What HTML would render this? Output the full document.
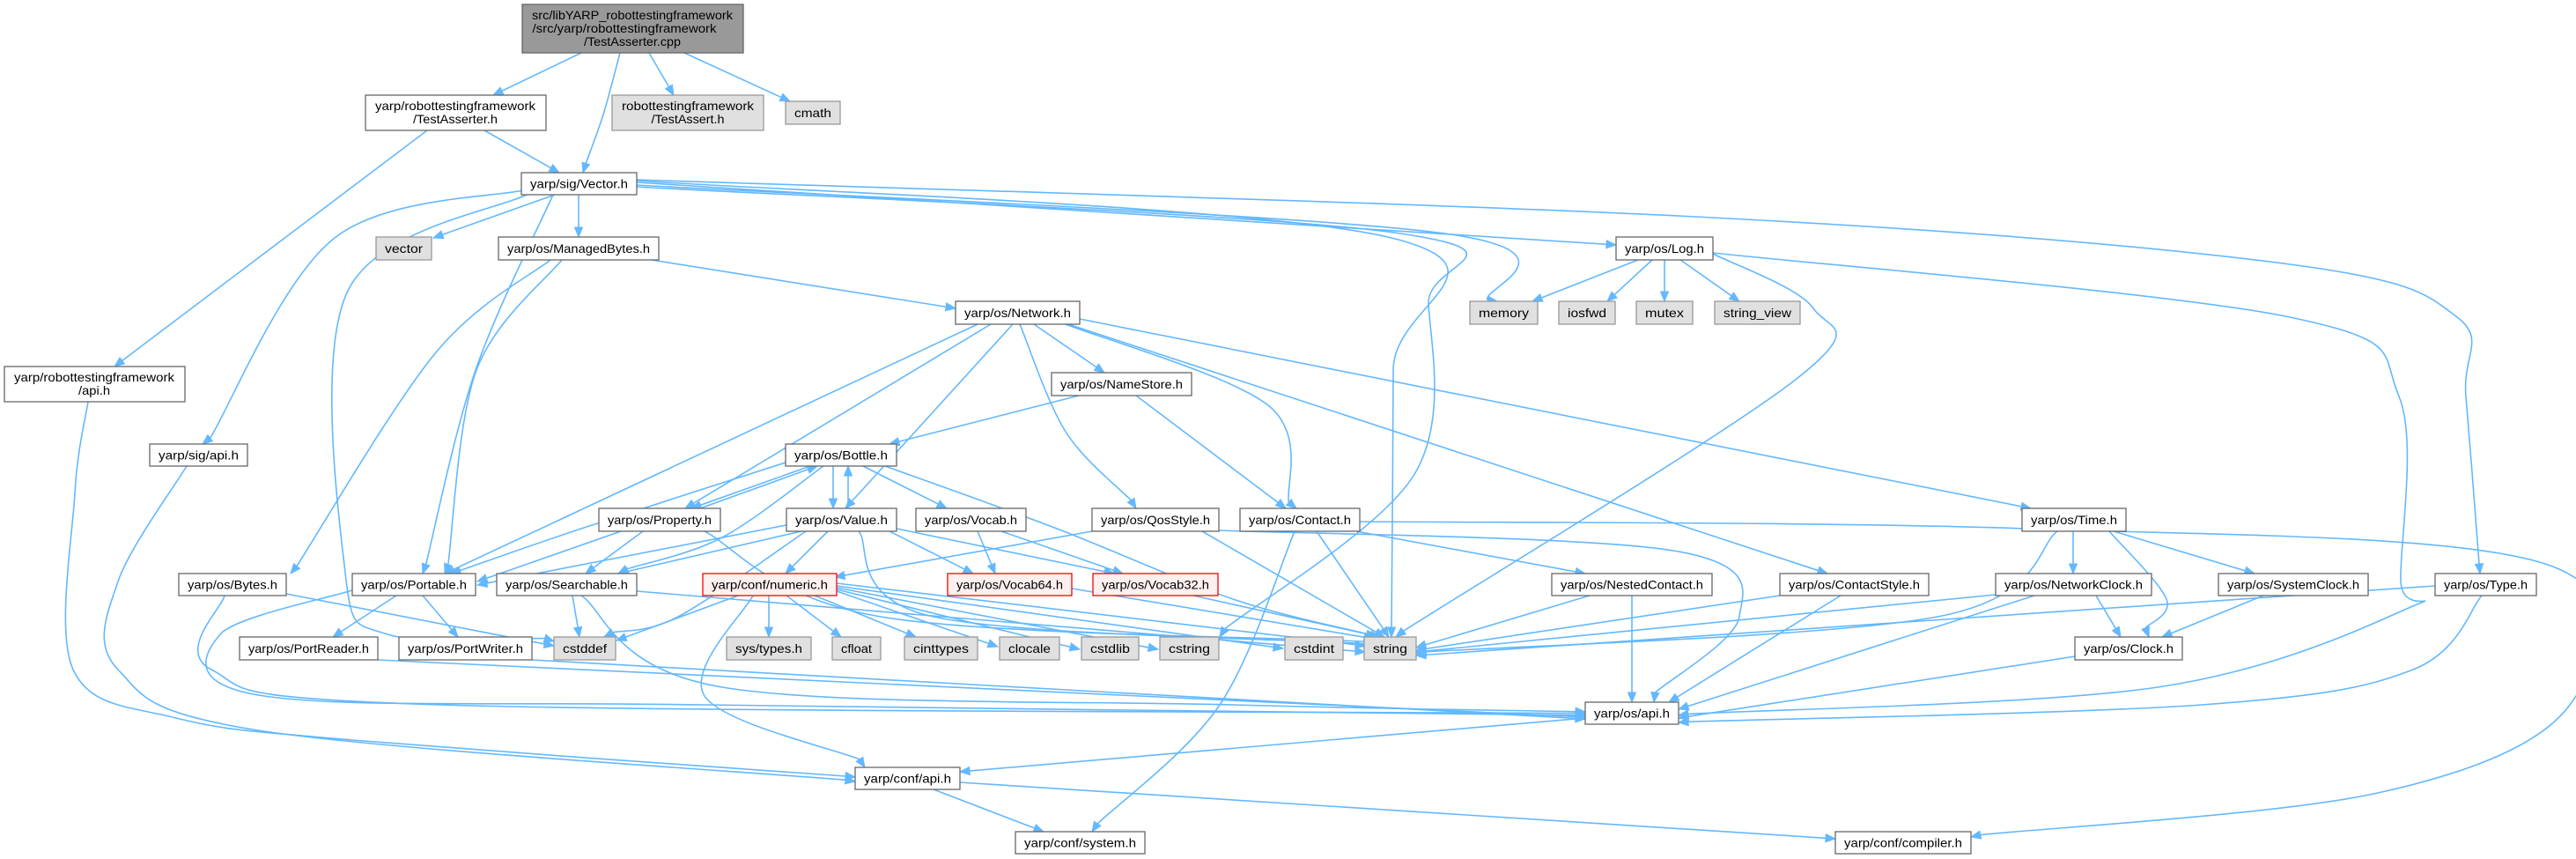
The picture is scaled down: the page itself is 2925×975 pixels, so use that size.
<!DOCTYPE html>
<html><head><meta charset="utf-8"><style>
html,body{margin:0;padding:0;background:#fff;}
svg{display:block;}
text{font-family:"Liberation Sans","DejaVu Sans",sans-serif;font-size:14px;fill:#000;}
</style></head><body>
<svg id="s" width="2925" height="975" viewBox="0 0 2925 975" xmlns="http://www.w3.org/2000/svg">
<g id="edges" fill="none" stroke="#63b8ff" stroke-width="1.6"></g>
<g id="heads" fill="#63b8ff" stroke="#63b8ff" stroke-width="1"></g>
<g id="nodes"></g>
<g id="labels" text-anchor="middle">
<text x="718" y="22" textLength="228" lengthAdjust="spacingAndGlyphs">src/libYARP_robottestingframework</text>
<text x="709" y="37" textLength="209" lengthAdjust="spacingAndGlyphs">/src/yarp/robottestingframework</text>
<text x="718" y="52" textLength="110" lengthAdjust="spacingAndGlyphs">/TestAsserter.cpp</text>
<text x="517" y="125" textLength="182" lengthAdjust="spacingAndGlyphs">yarp/robottestingframework</text>
<text x="517" y="140" textLength="96" lengthAdjust="spacingAndGlyphs">/TestAsserter.h</text>
<text x="781" y="125" textLength="150" lengthAdjust="spacingAndGlyphs">robottestingframework</text>
<text x="781" y="140" textLength="83" lengthAdjust="spacingAndGlyphs">/TestAssert.h</text>
<text x="107" y="433" textLength="182" lengthAdjust="spacingAndGlyphs">yarp/robottestingframework</text>
<text x="107" y="448" textLength="36" lengthAdjust="spacingAndGlyphs">/api.h</text>
<text class="s" data-n="cmath">cmath</text>
<text class="s" data-n="vec">yarp/sig/Vector.h</text>
<text class="s" data-n="vector">vector</text>
<text class="s" data-n="mb">yarp/os/ManagedBytes.h</text>
<text class="s" data-n="log">yarp/os/Log.h</text>
<text class="s" data-n="net">yarp/os/Network.h</text>
<text class="s" data-n="memory">memory</text>
<text class="s" data-n="iosfwd">iosfwd</text>
<text class="s" data-n="mutex">mutex</text>
<text class="s" data-n="sv">string_view</text>
<text class="s" data-n="ns">yarp/os/NameStore.h</text>
<text class="s" data-n="sigapi">yarp/sig/api.h</text>
<text class="s" data-n="bottle">yarp/os/Bottle.h</text>
<text class="s" data-n="prop">yarp/os/Property.h</text>
<text class="s" data-n="value">yarp/os/Value.h</text>
<text class="s" data-n="bytes">yarp/os/Bytes.h</text>
<text class="s" data-n="port">yarp/os/Portable.h</text>
<text class="s" data-n="search">yarp/os/Searchable.h</text>
<text class="s" data-n="num">yarp/conf/numeric.h</text>
<text class="s" data-n="pr">yarp/os/PortReader.h</text>
<text class="s" data-n="pw">yarp/os/PortWriter.h</text>
<text class="s" data-n="cstddef">cstddef</text>
<text class="s" data-n="systypes">sys/types.h</text>
<text class="s" data-n="cfloat">cfloat</text>
<text class="s" data-n="confapi">yarp/conf/api.h</text>
<text class="s" data-n="vocab">yarp/os/Vocab.h</text>
<text class="s" data-n="qos">yarp/os/QosStyle.h</text>
<text class="s" data-n="contact">yarp/os/Contact.h</text>
<text class="s" data-n="v64">yarp/os/Vocab64.h</text>
<text class="s" data-n="v32">yarp/os/Vocab32.h</text>
<text class="s" data-n="nested">yarp/os/NestedContact.h</text>
<text class="s" data-n="cinttypes">cinttypes</text>
<text class="s" data-n="clocale">clocale</text>
<text class="s" data-n="cstdlib">cstdlib</text>
<text class="s" data-n="cstring">cstring</text>
<text class="s" data-n="cstdint">cstdint</text>
<text class="s" data-n="string">string</text>
<text class="s" data-n="osapi">yarp/os/api.h</text>
<text class="s" data-n="system">yarp/conf/system.h</text>
<text class="s" data-n="time">yarp/os/Time.h</text>
<text class="s" data-n="cstyle">yarp/os/ContactStyle.h</text>
<text class="s" data-n="nclock">yarp/os/NetworkClock.h</text>
<text class="s" data-n="sclock">yarp/os/SystemClock.h</text>
<text class="s" data-n="type">yarp/os/Type.h</text>
<text class="s" data-n="clock">yarp/os/Clock.h</text>
<text class="s" data-n="compiler">yarp/conf/compiler.h</text>
</g>
</svg>
<script>
var N={
root:[593,5,844,60,'root'],ta:[415,108,620,148,'w'],tas:[695,108,867,148,'g'],cmath:[892,115,954,141,'g'],
vec:[592,196,723,221,'w'],vector:[427,269,490,295,'g'],mb:[566,269,748,295,'w'],rtfapi:[5,416,210,456,'w'],
log:[1835,269,1945,295,'w'],net:[1085,342,1226,368,'w'],memory:[1669,342,1746,368,'g'],iosfwd:[1770,342,1834,368,'g'],
mutex:[1858,342,1922,368,'g'],sv:[1947,342,2044,368,'g'],ns:[1194,423,1353,449,'w'],
sigapi:[170,504,281,529,'w'],bottle:[892,504,1018,529,'w'],prop:[680,577,818,603,'w'],value:[893,577,1018,603,'w'],
bytes:[203,651,325,676,'w'],port:[400,651,540,676,'w'],search:[564,651,723,676,'w'],num:[798,651,950,676,'r'],
pr:[272,723,429,749,'w'],pw:[453,723,604,749,'w'],cstddef:[629,723,699,749,'g'],systypes:[825,723,921,749,'g'],
cfloat:[945,723,1000,749,'g'],confapi:[971,871,1090,896,'w'],vocab:[1040,577,1165,603,'w'],qos:[1240,577,1384,603,'w'],
contact:[1408,577,1544,603,'w'],v64:[1076,651,1217,676,'r'],v32:[1241,651,1383,676,'r'],nested:[1762,651,1944,676,'w'],
cinttypes:[1027,723,1110,749,'g'],clocale:[1135,723,1203,749,'g'],cstdlib:[1228,723,1293,749,'g'],cstring:[1317,723,1384,749,'g'],
cstdint:[1459,723,1525,749,'g'],string:[1549,723,1608,749,'g'],osapi:[1800,797,1906,822,'w'],system:[1153,944,1300,969,'w'],
time:[2296,577,2414,603,'w'],cstyle:[2021,651,2190,676,'w'],nclock:[2266,651,2443,676,'w'],sclock:[2519,651,2689,676,'w'],
type:[2765,651,2880,676,'w'],clock:[2356,723,2478,749,'w'],compiler:[2084,944,2238,969,'w']};
var NS="http://www.w3.org/2000/svg";
var gn=document.getElementById('nodes');
for(var k in N){var b=N[k];var r=document.createElementNS(NS,'rect');
r.setAttribute('x',b[0]);r.setAttribute('y',b[1]);r.setAttribute('width',b[2]-b[0]);r.setAttribute('height',b[3]-b[1]);
var t=b[4];r.setAttribute('fill',t=='root'?'#999999':t=='g'?'#e0e0e0':t=='r'?'#fff0f0':'#ffffff');
r.setAttribute('stroke',t=='r'?'#ff0000':t=='g'?'#999999':'#666666');r.setAttribute('stroke-width','1.3');gn.appendChild(r);}
document.querySelectorAll('text.s').forEach(function(t){var b=N[t.getAttribute('data-n')];
t.setAttribute('x',(b[0]+b[2])/2);t.setAttribute('y',(b[1]+b[3])/2+5);
t.setAttribute('textLength',b[2]-b[0]-20);t.setAttribute('lengthAdjust','spacingAndGlyphs');});
var E=[
[[660,60],[560,108]],[[704,60],[685,130],[662,196]],[[737,60],[765,108]],[[777,60],[897,115]],
[[550,148],[635,196]],[[485,148],[130,416]],
[[100,456],[85,560],[83,760],[200,815],[400,840],[971,882]],
[[212,529],[134,660],[134,760],[300,830],[971,887]],
[[600,215],[380,270],[230,504]],
[[600,220],[395,330],[392,650],[440,720],[629,728]],
[[628,221],[540,420],[480,651]],
[[630,221],[492,270]],[[657,221],[657,269]],
[[723,205],[1580,270],[1582,420],[1580,723]],
[[723,212],[1590,265],[1622,345],[1605,540],[1385,723]],
[[723,210],[1640,265],[1700,342]],
[[723,207],[1835,278]],
[[723,204],[1925,246],[2600,300],[2790,360],[2800,450],[2816,651]],
[[740,295],[1085,350]],[[625,295],[495,400],[330,651]],[[638,295],[541,420],[505,651]],
[[1110,368],[505,651]],[[1125,368],[778,577]],[[1150,368],[960,577]],[[1174,368],[1254,423]],
[[1158,368],[1210,490],[1290,577]],[[1210,368],[1440,460],[1472,577]],[[1213,368],[2075,651]],[[1226,362],[2306,577]],
[[1225,449],[1010,504]],[[1290,449],[1460,577]],
[[920,529],[785,577]],[[795,577],[928,529]],[[946,529],[946,577]],[[963,577],[963,529]],
[[892,525],[660,600],[512,651]],[[935,529],[820,610],[702,651]],[[980,529],[1075,577]],
[[1005,529],[1200,600],[1400,680],[1562,723]],
[[705,603],[542,660]],[[730,603],[665,651]],[[800,603],[1000,700],[1562,730]],
[[893,596],[542,664]],[[910,603],[702,651]],[[940,603],[892,651]],[[915,603],[770,700],[686,723]],
[[1010,603],[1105,651]],[[1018,600],[1265,651]],[[975,603],[1060,700],[1560,733]],
[[1110,603],[1130,651]],[[1137,603],[1275,651]],[[1217,668],[1560,725]],[[1355,676],[1567,723]],
[[1240,603],[948,655]],[[1365,603],[1572,723]],[[1384,602],[1900,625],[1975,700],[1878,797]],
[[1540,603],[1800,651]],[[1495,603],[1577,723]],[[1470,603],[1385,800],[1240,944]],
[[1544,592],[2300,600],[2890,640],[2918,800],[2700,900],[2238,950]],
[[838,676],[700,727]],[[873,676],[873,723]],[[893,676],[955,723]],[[925,676],[1040,723]],[[950,671],[1133,734]],
[[950,669],[1226,737]],[[950,667],[1315,737]],[[950,665],[1457,736]],[[950,662],[1550,733]],
[[855,676],[800,790],[982,871]],
[[450,676],[378,723]],[[480,676],[520,723]],[[400,670],[250,720],[300,790],[800,800],[1800,812]],
[[650,676],[658,723]],[[723,671],[1550,740]],[[660,676],[820,780],[1400,800],[1800,808]],
[[325,674],[629,733]],[[255,676],[240,760],[500,800],[1800,810]],
[[429,749],[1800,814]],[[604,749],[1800,816]],
[[1800,815],[1090,876]],[[1060,896],[1185,944]],[[1090,888],[2084,952]],
[[2021,676],[1608,738]],[[2090,676],[1895,797]],
[[2380,676],[2408,723]],[[2266,675],[1608,740]],[[2310,676],[1906,805]],
[[2570,676],[2455,723]],[[2395,603],[2460,680],[2440,723]],[[2354,603],[2354,651]],[[2400,603],[2560,651]],
[[2336,603],[2200,700],[1608,742]],
[[2356,745],[1906,815]],[[2818,676],[2740,760],[2500,800],[1906,820]],[[2765,665],[1608,744]],
[[1805,676],[1608,735]],[[1853,676],[1853,797]],
[[1860,295],[1740,342]],[[1876,295],[1825,342]],[[1890,295],[1890,342]],[[1908,295],[1975,342]],
[[1945,288],[2059,350],[2040,430],[1585,723]],
[[1945,287],[2600,360],[2724,450],[2726,660],[2735,690],[2450,780],[1906,812]]
];
var ge=document.getElementById('edges'),gh=document.getElementById('heads');
E.forEach(function(P){
 var n=P.length,end=P[n-1],pre=P[n-2];
 var c2;
 var pts=P.map(function(p){return p.slice();});
 if(n==2){c2=pre;}else{var a=P[n-3];c2=[end[0]-(end[0]-a[0])/6,end[1]-(end[1]-a[1])/6];}
 var dx=end[0]-c2[0],dy=end[1]-c2[1],L=Math.sqrt(dx*dx+dy*dy)||1;dx/=L;dy/=L;
 var tip=end,base=[end[0]-dx*11,end[1]-dy*11];
 pts[n-1]=base;
 var d='M'+pts[0][0]+','+pts[0][1];
 if(n==2){d+=' L'+base[0]+','+base[1];}
 else{for(var i=0;i<n-1;i++){var p0=pts[Math.max(i-1,0)],p1=pts[i],p2=pts[i+1],p3=pts[Math.min(i+2,n-1)];
  var a1=[p1[0]+(p2[0]-p0[0])/6,p1[1]+(p2[1]-p0[1])/6],a2=[p2[0]-(p3[0]-p1[0])/6,p2[1]-(p3[1]-p1[1])/6];
  d+=' C'+a1[0].toFixed(1)+','+a1[1].toFixed(1)+' '+a2[0].toFixed(1)+','+a2[1].toFixed(1)+' '+p2[0].toFixed(1)+','+p2[1].toFixed(1);}}
 var pa=document.createElementNS(NS,'path');pa.setAttribute('d',d);ge.appendChild(pa);
 var px=-dy*4.5,py=dx*4.5;
 var tr=document.createElementNS(NS,'polygon');
 tr.setAttribute('points',tip[0]+','+tip[1]+' '+(base[0]+px)+','+(base[1]+py)+' '+(base[0]-px)+','+(base[1]-py));
 gh.appendChild(tr);
});
</script>
</body></html>
